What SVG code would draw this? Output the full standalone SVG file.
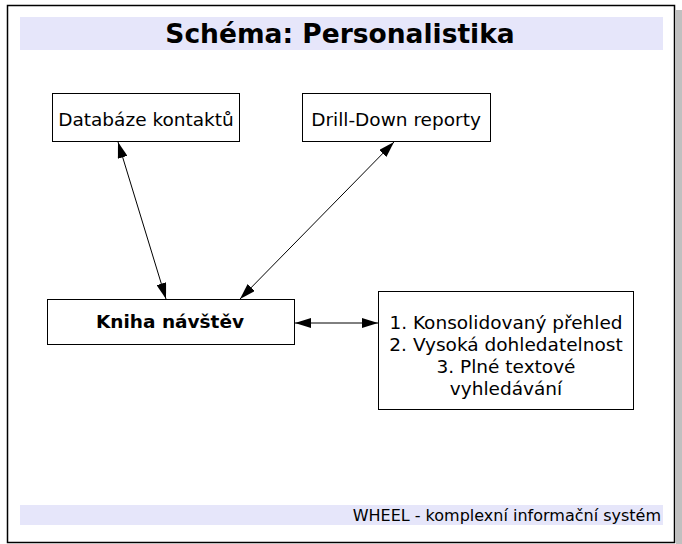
<svg xmlns="http://www.w3.org/2000/svg" width="682" height="544" viewBox="0 0 682 544">
<style>
text{font-family:"DejaVu Sans",Verdana,sans-serif;fill:#000}
.box{fill:#fff;stroke:#000;stroke-width:1}
.band{fill:#e6e6fa}
.lbl{font-size:18.5px;text-anchor:middle}
.conn line{stroke:#000;stroke-width:1}
</style>
<defs>
<marker id="ah" viewBox="0 0 16 10" refX="16" refY="5" markerWidth="16" markerHeight="10" markerUnits="userSpaceOnUse" orient="auto-start-reverse">
<path d="M0,0 L16,5 L0,10 z" fill="#000"/>
</marker>
</defs>
<rect x="676" y="10" width="6" height="534" fill="#c0c0c0"/>
<rect x="7.5" y="5.5" width="667" height="537" fill="#fff" stroke="#000" stroke-width="1.5"/>
<g id="title">
<rect class="band" x="20" y="17" width="643" height="33"/>
<text x="340" y="43" text-anchor="middle" font-size="26.5" font-weight="bold">Schéma: Personalistika</text>
</g>
<g id="footer">
<rect class="band" x="20" y="505" width="643" height="20"/>
<text x="661" y="521" text-anchor="end" font-size="16">WHEEL - komplexní informační systém</text>
</g>
<g id="databaze">
<rect class="box" x="52.5" y="93.5" width="187" height="48"/>
<text class="lbl" x="146" y="126">Databáze kontaktů</text>
</g>
<g id="drilldown">
<rect class="box" x="302.5" y="93.5" width="188" height="48"/>
<text class="lbl" x="396" y="126">Drill-Down reporty</text>
</g>
<g id="kniha">
<rect class="box" x="47.5" y="299.5" width="247" height="45"/>
<text class="lbl" x="170" y="328" font-size="18" font-weight="bold">Kniha návštěv</text>
</g>
<g id="seznam">
<rect class="box" x="378.5" y="291.5" width="255" height="118"/>
<text class="lbl" x="506" y="329">1. Konsolidovaný přehled</text>
<text class="lbl" x="506" y="351">2. Vysoká dohledatelnost</text>
<text class="lbl" x="506" y="373">3. Plné textové</text>
<text class="lbl" x="506" y="395">vyhledávání</text>
</g>
<g class="conn" id="connectors">
<line x1="118" y1="142" x2="166" y2="299" marker-start="url(#ah)" marker-end="url(#ah)"/>
<line x1="394" y1="142" x2="240" y2="299" marker-start="url(#ah)" marker-end="url(#ah)"/>
<line x1="295" y1="323" x2="378" y2="323" marker-start="url(#ah)" marker-end="url(#ah)"/>
</g>
</svg>
